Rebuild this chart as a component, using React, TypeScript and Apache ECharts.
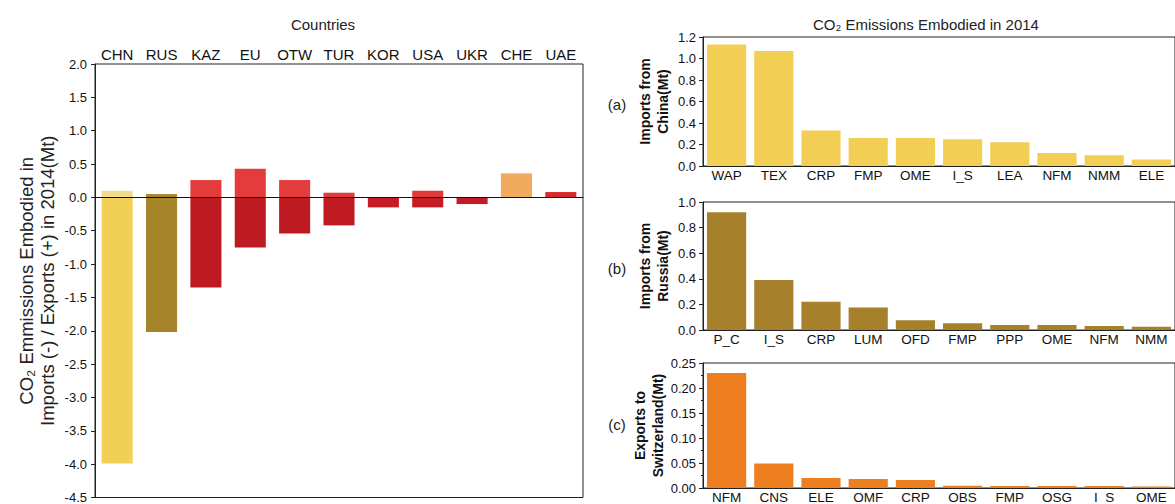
import React, { useEffect, useRef } from "react";
import * as echarts from "echarts";

const countries = ["CHN", "RUS", "KAZ", "EU", "OTW", "TUR", "KOR", "USA", "UKR", "CHE", "UAE"];
const exportsMt = [0.1, 0.05, 0.26, 0.43, 0.26, 0.07, 0, 0.1, 0, 0.36, 0.08];
const importsMt = [-3.99, -2.02, -1.35, -0.75, -0.54, -0.42, -0.15, -0.15, -0.1, 0, 0];
const exportColors = ["#f1dc8c", "#a8872c", "#e43b3c", "#e43b3c", "#e43b3c", "#e03a3b", "#e03a3b", "#e03a3b", "#e03a3b", "#f1a95e", "#d9272d"];
const importColors = ["#f2cf55", "#a6842a", "#be1a22", "#be1a22", "#be1a22", "#c01b23", "#c61c25", "#c41b24", "#c41b24", "#c41b24", "#c41b24"];
const leftTicks = { min: -4.5, max: 2.0, interval: 0.5 };

const chinaSectors = ["WAP", "TEX", "CRP", "FMP", "OME", "I_S", "LEA", "NFM", "NMM", "ELE"];
const chinaValues = [1.13, 1.07, 0.33, 0.26, 0.26, 0.25, 0.22, 0.12, 0.1, 0.06];
const russiaSectors = ["P_C", "I_S", "CRP", "LUM", "OFD", "FMP", "PPP", "OME", "NFM", "NMM"];
const russiaValues = [0.92, 0.39, 0.22, 0.175, 0.077, 0.053, 0.04, 0.04, 0.032, 0.026];
const swissSectors = ["NFM", "CNS", "ELE", "OMF", "CRP", "OBS", "FMP", "OSG", "I_S", "OME"];
const swissValues = [0.23, 0.049, 0.02, 0.018, 0.016, 0.0045, 0.004, 0.004, 0.004, 0.003];

const FONT = "'Liberation Sans', Arial, sans-serif";
const AX = "#222";

export default function App() {
  const ref = useRef<HTMLDivElement>(null);
  useEffect(() => {
    if (!ref.current) return;
    const chart = echarts.init(ref.current, undefined, { renderer: "svg" });

    const panel = (gi: number, cats: string[], min: number, max: number, interval: number, dec: number, name: string, minor: boolean) => ({
      x: {
        type: "category",
        gridIndex: gi,
        data: cats,
        position: "bottom",
        axisLine: { show: true, lineStyle: { color: AX, width: 1 } },
        axisTick: { show: false },
        axisLabel: { color: "#111", fontSize: 13.5, fontFamily: FONT, margin: 2, interval: 0 },
      },
      y: {
        type: "value",
        gridIndex: gi,
        min,
        max,
        interval,
        name,
        nameLocation: "middle",
        nameGap: 31,
        nameTextStyle: { color: "#111", fontSize: 14, fontWeight: "bold", fontFamily: FONT, lineHeight: 18 },
        axisLine: { show: true, lineStyle: { color: AX, width: 1 } },
        axisTick: { show: true, inside: false, length: 4, lineStyle: { color: AX } },
        minorTick: { show: minor, splitNumber: 2, length: 2, lineStyle: { color: AX } },
        splitLine: { show: false },
        axisLabel: { color: "#111", fontSize: 13, fontFamily: FONT, margin: 7, formatter: (v: number) => v.toFixed(dec) },
      },
    });

    const pa = panel(1, chinaSectors, 0, 1.2, 0.2, 1, "Imports from\nChina(Mt)", false);
    const pb = panel(2, russiaSectors, 0, 1.0, 0.2, 1, "Imports from\nRussia(Mt)", false);
    const pc = panel(3, swissSectors, 0, 0.25, 0.05, 2, "Exports to\nSwitzerland(Mt)", true);

    const option: any = {
      animation: false,
      backgroundColor: "#fff",
      textStyle: { fontFamily: FONT },
      grid: [
        { left: 95, top: 64, width: 488, height: 438, show: true, borderColor: AX, borderWidth: 1, backgroundColor: "transparent" },
        { left: 703, top: 37, width: 483, height: 129, show: true, borderColor: AX, borderWidth: 1, backgroundColor: "transparent" },
        { left: 703, top: 202, width: 483, height: 128, show: true, borderColor: AX, borderWidth: 1, backgroundColor: "transparent" },
        { left: 703, top: 363, width: 483, height: 126, show: true, borderColor: AX, borderWidth: 1, backgroundColor: "transparent" },
      ],
      xAxis: [
        {
          type: "category",
          gridIndex: 0,
          data: countries,
          position: "top",
          axisLine: { show: true, lineStyle: { color: AX, width: 1 } },
          axisTick: { show: false },
          axisLabel: { color: "#111", fontSize: 15, fontFamily: FONT, margin: 2, interval: 0 },
        },
        pa.x,
        pb.x,
        pc.x,
      ],
      yAxis: [
        {
          type: "value",
          gridIndex: 0,
          min: leftTicks.min,
          max: leftTicks.max,
          interval: leftTicks.interval,
          name: "CO₂ Emmissions Embodied in\nImports (-) / Exports (+) in 2014(Mt)",
          nameLocation: "middle",
          nameGap: 37,
          nameTextStyle: { color: "#222", fontSize: 18.5, fontFamily: FONT, lineHeight: 21 },
          axisLine: { show: true, lineStyle: { color: AX, width: 1 } },
          axisTick: { show: true, inside: false, length: 4, lineStyle: { color: AX } },
          splitLine: { show: false },
          axisLabel: { color: "#111", fontSize: 13, fontFamily: FONT, margin: 8, formatter: (v: number) => v.toFixed(1) },
        },
        pa.y,
        pb.y,
        pc.y,
      ],
      series: [
        {
          type: "bar",
          name: "Exports",
          xAxisIndex: 0,
          yAxisIndex: 0,
          stack: "net",
          barCategoryGap: "30%",
          data: exportsMt.map((v, i) => (v === 0 ? "-" : { value: v, itemStyle: { color: exportColors[i] } })),
          markLine: {
            silent: true,
            symbol: "none",
            label: { show: false },
            lineStyle: { color: "#111", width: 1.2, type: "solid" },
            data: [{ yAxis: 0 }],
          },
        },
        {
          type: "bar",
          name: "Imports",
          xAxisIndex: 0,
          yAxisIndex: 0,
          stack: "net",
          barCategoryGap: "30%",
          data: importsMt.map((v, i) => (v === 0 ? "-" : { value: v, itemStyle: { color: importColors[i] } })),
        },
        { type: "bar", xAxisIndex: 1, yAxisIndex: 1, barCategoryGap: "17%", itemStyle: { color: "#f2cf54" }, data: chinaValues },
        { type: "bar", xAxisIndex: 2, yAxisIndex: 2, barCategoryGap: "17%", itemStyle: { color: "#a6802a" }, data: russiaValues },
        { type: "bar", xAxisIndex: 3, yAxisIndex: 3, barCategoryGap: "17%", itemStyle: { color: "#ee7f20" }, data: swissValues },
      ],
      graphic: [
        { type: "text", x: 323, y: 24, style: { text: "Countries", fontSize: 15, fontFamily: FONT, fill: "#222", align: "center", verticalAlign: "middle" } },
        { type: "text", x: 926, y: 24, style: { text: "CO₂ Emissions Embodied in 2014", fontSize: 15, fontFamily: FONT, fill: "#222", align: "center", verticalAlign: "middle" } },
        { type: "text", x: 617, y: 104, style: { text: "(a)", fontSize: 15, fontFamily: FONT, fill: "#222", align: "center", verticalAlign: "middle" } },
        { type: "text", x: 617, y: 268, style: { text: "(b)", fontSize: 15, fontFamily: FONT, fill: "#222", align: "center", verticalAlign: "middle" } },
        { type: "text", x: 617, y: 424, style: { text: "(c)", fontSize: 15, fontFamily: FONT, fill: "#222", align: "center", verticalAlign: "middle" } },
      ],
    };
    chart.setOption(option);
    return () => chart.dispose();
  }, []);
  return <div ref={ref} style={{ position: "absolute", left: 0, top: 0, width: 1175, height: 504 }} />;
}
